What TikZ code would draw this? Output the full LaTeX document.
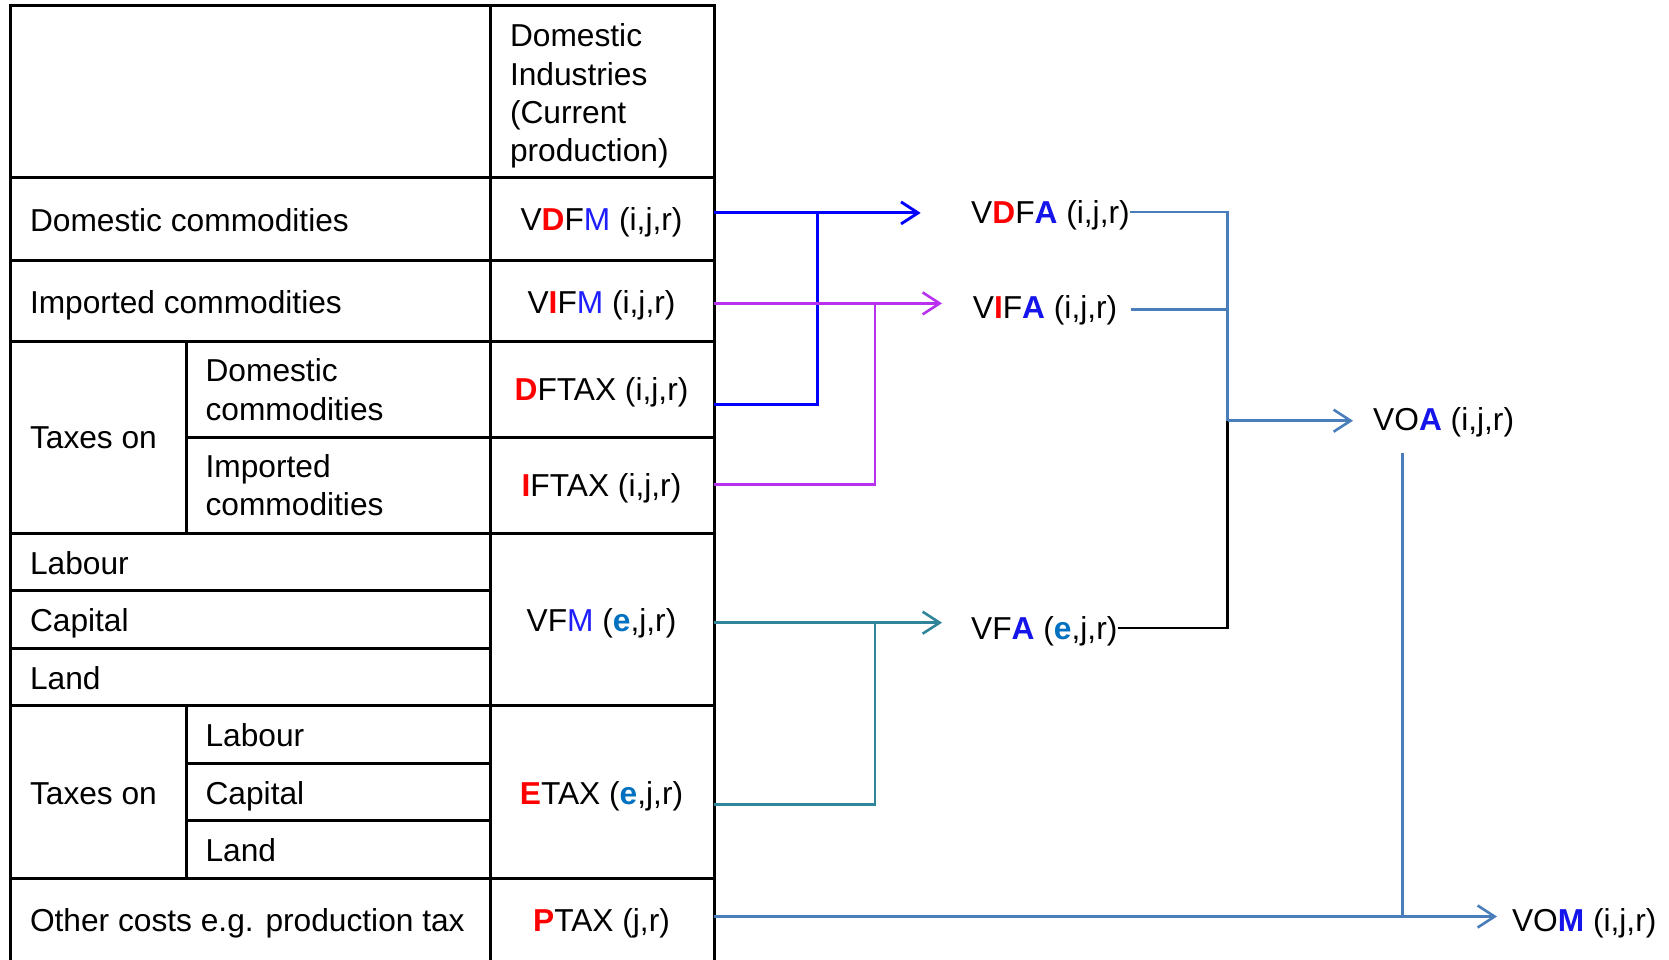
\documentclass[tikz,border=0pt]{standalone}
\usepackage{fontspec}
\setmainfont{Liberation Sans}
\usetikzlibrary{arrows.meta}

\definecolor{accred}{RGB}{255,0,0}
\definecolor{accblue}{RGB}{30,30,255}
\definecolor{accblueb}{RGB}{20,20,235}
\definecolor{acce}{RGB}{0,112,192}
\definecolor{lnblue}{RGB}{0,0,255}
\definecolor{lnmag}{RGB}{186,48,240}
\definecolor{lnteal}{RGB}{49,133,155}
\definecolor{lnsteel}{RGB}{74,126,187}

% coloured letters inside the variable names
\newcommand\accR[1]{\textcolor{accred}{\bfseries #1}}
\newcommand\accM[1]{\textcolor{accblue}{#1}}
\newcommand\accA[1]{\textcolor{accblueb}{\bfseries #1}}
\newcommand\accE[1]{\textcolor{acce}{\bfseries #1}}

\begin{document}
\begin{tikzpicture}[x=1pt,y=-1pt,
  grid/.style={line width=3pt,line cap=rect},
  txt/.style={inner sep=0pt,text height=22pt,text depth=0pt,
    font=\fontsize{31.7}{38.3}\selectfont},
  lbl/.style={txt,anchor=west},
  cell/.style={txt,anchor=center},
  multi/.style={inner sep=0pt,anchor=west,align=left,
    font=\fontsize{31.7}{38.3}\selectfont},
  conn/.style={line width=2.6pt},
  arr/.style={-{Straight Barb[length=17pt,width=22pt]}}
]
\clip (0,0) rectangle (1669,959);

% ---------- table grid ----------
\draw[grid] (10.6,5.3) -- (714.2,5.3);
\draw[grid] (10.6,5.3) -- (10.6,975);
\draw[grid] (714.2,5.3) -- (714.2,975);
\draw[grid] (490.7,5.3) -- (490.7,975);
\foreach \yy in {177.8,260.8,341.7,533.3,705.7,878.1}
  \draw[grid] (10.6,\yy) -- (714.2,\yy);
\draw[grid] (186.3,437.5) -- (714.2,437.5);
\draw[grid] (10.6,590.7) -- (490.7,590.7);
\draw[grid] (10.6,648.2) -- (490.7,648.2);
\draw[grid] (186.3,763.2) -- (490.7,763.2);
\draw[grid] (186.3,820.7) -- (490.7,820.7);
\draw[grid] (186.3,341.7) -- (186.3,533.3);
\draw[grid] (186.3,705.7) -- (186.3,878.1);

% ---------- row headings ----------
\node[multi] (head) at (509.8,96) {Domestic\\Industries\\(Current\\production)};
\node[lbl] (dc)   at (29.8,220.3) {Domestic commodities};
\node[lbl] (ic)   at (29.8,302)   {Imported commodities};
\node[lbl] (tx1)  at (29.8,437.5) {Taxes on};
\node[multi] (tdc) at (205.4,389.6) {Domestic\\commodities};
\node[multi] (tic) at (205.4,485.4) {Imported\\commodities};
\node[lbl] (lab)  at (29.8,563)   {Labour};
\node[lbl] (cap)  at (29.8,620.5) {Capital};
\node[lbl] (lnd)  at (29.8,678)   {Land};
\node[lbl] (tx2)  at (29.8,793)   {Taxes on};
\node[lbl] (tlab) at (205.4,735.5) {Labour};
\node[lbl] (tcap) at (205.4,793)  {Capital};
\node[lbl] (tlnd) at (205.4,850.5) {Land};
\node[lbl] (oth)  at (29.8,920.7) {Other costs e.g. production tax};

% ---------- value cells ----------
\node[cell] (vdfm)  at (601.5,219.5) {V\accR{D}F\accM{M} (i,j,r)};
\node[cell] (vifm)  at (601.5,302)   {V\accR{I}F\accM{M} (i,j,r)};
\node[cell] (dftax) at (601.5,389.6) {\accR{D}FTAX (i,j,r)};
\node[cell] (iftax) at (601.5,485.4) {\accR{I}FTAX (i,j,r)};
\node[cell] (vfm)   at (601.5,620.5) {VF\accM{M} (\accE{e},j,r)};
\node[cell] (etax)  at (601.5,793)   {\accR{E}TAX (\accE{e},j,r)};
\node[cell] (ptax)  at (601.5,920.7) {\accR{P}TAX (j,r)};

% ---------- aggregates ----------
\node[lbl] (vdfa) at (971,212)     {V\accR{D}F\accA{A} (i,j,r)};
\node[lbl] (vifa) at (972.7,307.8) {V\accR{I}F\accA{A} (i,j,r)};
\node[lbl] (vfa)  at (971,628)     {VF\accA{A} (\accE{e},j,r)};
\node[lbl] (voa)  at (1373,419.5)  {VO\accA{A} (i,j,r)};
\node[lbl] (vom)  at (1511.8,920.5) {VO\accA{M} (i,j,r)};

% ---------- connector ends on the table edge ----------
\coordinate (vdfmR)  at (714.2,212.9);
\coordinate (dftaxR) at (714.2,404.5);
\coordinate (vifmR)  at (714.2,303.4);
\coordinate (iftaxR) at (714.2,484.3);
\coordinate (vfmR)   at (714.2,622.7);
\coordinate (etaxR)  at (714.2,804.7);
\coordinate (ptaxR)  at (714.2,916.5);
\coordinate (jD) at (817.5,212.9);
\coordinate (jI) at (875,303.4);
\coordinate (jE) at (875,622.7);
\coordinate (jA) at (1227.6,420.7);
\coordinate (vifaR) at (1130.5,309.5);
\coordinate (voaDrop) at (1402.5,453.3);

% domestic inputs
\draw[conn,line width=2.9pt,lnblue] (dftaxR) -| (jD);
\draw[conn,line width=2.9pt,lnblue,arr,shorten >=50.3pt] (vdfmR) -- (vdfmR -| vdfa.west);
% imported inputs
\draw[conn,lnmag] (iftaxR) -| (jI);
\draw[conn,lnmag,arr,shorten >=30.7pt] (vifmR) -- (vifmR -| vifa.west);
% endowments
\draw[conn,lnteal] (etaxR) -| (jE);
\draw[conn,lnteal,arr,shorten >=29pt] (vfmR) -- (vfmR -| vfa.west);

% into VOA
\draw[conn,black] (vfa.east) -| (jA);
\draw[conn,lnsteel] (vdfa.east) -| (jA);
\draw[conn,lnsteel] (vifaR) -- (vifaR -| jA);
\draw[conn,lnsteel,arr,shorten >=20pt] (jA) -- (jA -| voa.west);

% into VOM
\draw[conn,lnsteel] (voaDrop) -- (voaDrop |- ptaxR);
\draw[conn,lnsteel,arr,shorten >=14.8pt] (ptaxR) -- (ptaxR -| vom.west);
\end{tikzpicture}
\end{document}
